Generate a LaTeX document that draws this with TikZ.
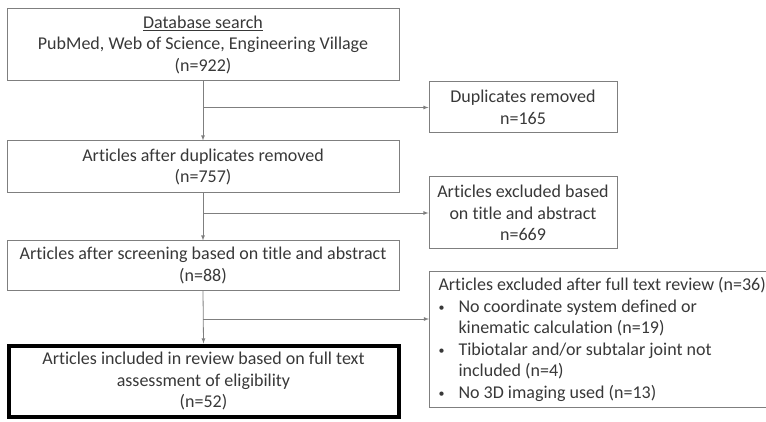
\documentclass[tikz,border=0pt]{standalone}
\usepackage{fontspec}
\setmainfont{Carlito}[Ligatures=NoCommon]
\usetikzlibrary{arrows}
\definecolor{txtgray}{HTML}{383838}
\definecolor{linegray}{HTML}{7F7F7F}
\newcommand{\bul}{\makebox[20pt][l]{\raisebox{1pt}{\fontsize{12}{12}\selectfont\textbullet}}}
\newcommand{\ind}{\hspace*{20pt}}

\begin{document}
\begin{tikzpicture}[x=1pt,y=-1pt,
  box/.style={draw=linegray,line width=1pt,text=txtgray,align=center,inner sep=0pt,font=\fontsize{18}{21.5}\selectfont},
  link/.style={draw=linegray,line width=0.8pt,-latex}]
\useasboundingbox (0,0) rectangle (766,422);
% main column
\node[box,minimum width=392pt,minimum height=72pt] (db) at (203,45)
  {\underline{Database search}\\PubMed, Web of Science, Engineering Village\\(n=922)};
\node[box,minimum width=392pt,minimum height=52pt] (after) at (203,167)
  {Articles after duplicates removed\\(n=757)};
\node[box,minimum width=392pt,minimum height=49pt] (screen) at (203,265.5)
  {Articles after screening based on title and abstract\\(n=88)};
\node[box,draw=black,line width=4pt,minimum width=390pt,minimum height=71pt] (incl) at (203.5,381)
  {Articles included in review based on full text\\assessment of eligibility\\(n=52)};
% side column
\node[box,minimum width=188pt,minimum height=51pt] (dup) at (523,107.5)
  {Duplicates removed\\n=165};
\node[box,minimum width=188pt,minimum height=72pt] (excla) at (523,213)
  {Articles excluded based\\on title and abstract\\n=669};
\node[box,align=flush left,inner xsep=9pt,text width=350pt,minimum height=136pt,anchor=north west] (exclb) at (429,271)
  {Articles excluded after full text review (n=36)\\
   \bul No coordinate system defined or\\
   \ind kinematic calculation (n=19)\\
   \bul Tibiotalar and/or subtalar joint not\\
   \ind included (n=4)\\
   \bul No 3D imaging used (n=13)};
% connectors
\draw[link] (db.south) -- (after.north);
\draw[link] (after.south) -- (screen.north);
\draw[link] (screen.south) -- (incl.north);
\draw[link] (db.south |- dup.west) -- (dup.west);
\draw[link] (db.south |- excla.west) -- (excla.west);
\coordinate (br) at (203,319);
\draw[link] (br) -- (br -| exclb.west);
\end{tikzpicture}
\end{document}
